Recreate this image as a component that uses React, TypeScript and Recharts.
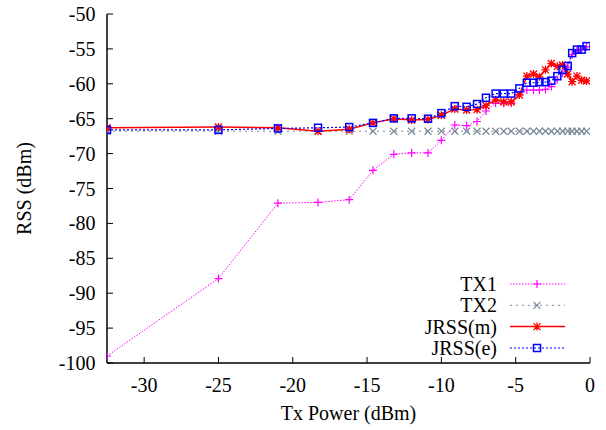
import React from 'react';
import { LineChart, Line, XAxis, YAxis, Legend } from 'recharts';

// Tx power (dBm) sample points
const txPower = [-32.5, -25, -21, -18.3, -16.2, -14.6, -13.2, -12, -10.9, -10, -9.1, -8.3, -7.6, -7, -6.35, -5.8, -5.3, -4.75, -4.25, -3.8, -3.4, -3.0, -2.6, -2.2, -1.85, -1.5, -1.2, -0.88, -0.56, -0.23];
const tx1 = [-99, -87.9, -77.1, -77, -76.6, -72.4, -70.1, -69.9, -69.9, -68.1, -65.9, -66, -65.4, -63.9, -62.8, -62.8, -62.8, -61.6, -60.9, -60.9, -60.9, -60.8, -60.4, -59.4, -58.5, -57.6, -55.8, -55.2, -55.1, -54.7];
const tx2 = [-66.8, -66.8, -66.8, -66.8, -66.8, -66.8, -66.8, -66.8, -66.8, -66.8, -66.8, -66.8, -66.8, -66.8, -66.8, -66.8, -66.8, -66.8, -66.8, -66.8, -66.8, -66.8, -66.8, -66.8, -66.8, -66.8, -66.8, -66.8, -66.8, -66.8];
const jrssM = [-66.3, -66.2, -66.3, -66.8, -66.5, -65.6, -65.0, -65.2, -65.1, -64.5, -63.6, -63.75, -63.7, -63.1, -62.3, -62.6, -62.6, -61.6, -58.9, -58.6, -59.0, -58.0, -57.1, -57.5, -57.3, -58.6, -59.7, -58.9, -59.5, -59.6];
const jrssE = [-66.6, -66.6, -66.4, -66.3, -66.2, -65.6, -64.95, -64.95, -65.0, -64.2, -63.2, -63.3, -62.9, -62.0, -61.4, -61.4, -61.4, -60.65, -59.85, -59.85, -59.75, -59.75, -59.55, -58.9, -58.0, -57.45, -55.6, -55.1, -55.1, -54.6];

const xTicks = [-30, -25, -20, -15, -10, -5, 0];
const yTicks = [-100, -95, -90, -85, -80, -75, -70, -65, -60, -55, -50];
const seriesNames = ['TX1', 'TX2', 'JRSS(m)', 'JRSS(e)'];

const data = txPower.map((x, i) => ({ x, tx1: tx1[i], tx2: tx2[i], jm: jrssM[i], je: jrssE[i] }));

const FONT = "'Liberation Serif', 'Times New Roman', Tinos, 'Nimbus Roman', 'Nimbus Roman No9 L', FreeSerif, 'DejaVu Serif', 'Noto Serif', Times, serif";
const textStyle = { fontFamily: FONT, fontSize: 20, fill: '#000' };

type Kind = 'plus' | 'cross' | 'star' | 'square';
const styles: { key: string; kind: Kind; color: string; width: number; dash?: string }[] = [
  { key: 'tx1', kind: 'plus', color: '#ff00ff', width: 1, dash: '1.5 1.5' },
  { key: 'tx2', kind: 'cross', color: '#7b8a98', width: 1, dash: '2 4' },
  { key: 'jm', kind: 'star', color: '#ff0000', width: 1.5 },
  { key: 'je', kind: 'square', color: '#0000ff', width: 1.2, dash: '2 2' },
];

function Marker({ kind, cx, cy, color }: { kind: Kind; cx: number; cy: number; color: string }) {
  if (cx == null || cy == null || isNaN(cx) || isNaN(cy)) return null;
  const s = 3.5;
  if (kind === 'plus') {
    return <path d={`M${cx - 4},${cy}H${cx + 4}M${cx},${cy - 4}V${cy + 4}`} stroke={color} strokeWidth={1.2} fill="none" />;
  }
  if (kind === 'cross') {
    return <path d={`M${cx - s},${cy - s}L${cx + s},${cy + s}M${cx - s},${cy + s}L${cx + s},${cy - s}`} stroke={color} strokeWidth={1.2} fill="none" />;
  }
  if (kind === 'star') {
    return <path d={`M${cx - s},${cy - s}L${cx + s},${cy + s}M${cx - s},${cy + s}L${cx + s},${cy - s}M${cx - 4},${cy}H${cx + 4}M${cx},${cy - 4}V${cy + 4}`} stroke={color} strokeWidth={1.3} fill="none" />;
  }
  return <rect x={cx - s} y={cy - s} width={2 * s} height={2 * s} stroke={color} strokeWidth={1.5} fill="none" />;
}

const XTick = (props: any) => {
  const { x, y, payload } = props;
  return (
    <text x={x} y={y} dy={7} textAnchor="middle" style={textStyle}>
      {payload.value}
    </text>
  );
};

const YTick = (props: any) => {
  const { x, y, payload } = props;
  return (
    <text x={x} y={y} dy={7} textAnchor="end" style={textStyle}>
      {payload.value}
    </text>
  );
};

const XLabel = (props: any) => {
  const vb = props.viewBox || {};
  return (
    <text x={vb.x + vb.width / 2} y={vb.y + 57} textAnchor="middle" style={textStyle}>
      Tx Power (dBm)
    </text>
  );
};

const YLabel = (props: any) => {
  const vb = props.viewBox || {};
  const cx = 23.5;
  const cy = vb.y + vb.height / 2;
  return (
    <text x={cx} y={cy} dy={7} transform={`rotate(-90 ${cx} ${cy})`} textAnchor="middle" style={textStyle}>
      RSS (dBm)
    </text>
  );
};

const LegendBox = () => {
  const rowY = [14, 35.3, 56.6, 78];
  return (
    <svg width={200} height={92} style={{ overflow: 'visible' }}>
      {styles.map((st, i) => (
        <g key={st.key}>
          <text x={97} y={rowY[i]} dy={7} textAnchor="end" style={textStyle}>
            {seriesNames[i]}
          </text>
          <line x1={110} x2={165} y1={rowY[i]} y2={rowY[i]} stroke={st.color} strokeWidth={st.width} strokeDasharray={st.dash} />
          <Marker kind={st.kind} cx={137} cy={rowY[i]} color={st.color} />
        </g>
      ))}
    </svg>
  );
};

export default function App() {
  const axisLine = { stroke: '#000', strokeWidth: 1.5 };
  const tickLine = { stroke: '#000', strokeWidth: 1 };
  return (
    <div style={{ position: 'absolute', left: 0, top: 0, width: 606, height: 430, background: '#fff', fontFamily: FONT }}>
      <LineChart width={606} height={430} data={data} margin={{ top: 14, right: 16, left: 0, bottom: 0 }} style={{ fontFamily: FONT }}>
        <XAxis
          dataKey="x"
          type="number"
          domain={[-32.5, 0]}
          ticks={xTicks}
          allowDataOverflow
          height={67}
          axisLine={axisLine}
          tickLine={tickLine}
          tickSize={-6}
          tickMargin={28}
          tick={<XTick />}
          label={<XLabel />}
        />
        <XAxis
          xAxisId="top"
          orientation="top"
          dataKey="x"
          type="number"
          domain={[-32.5, 0]}
          ticks={xTicks}
          allowDataOverflow
          height={0}
          axisLine={axisLine}
          tickLine={tickLine}
          tickSize={-6}
          tick={false}
        />
        <YAxis
          type="number"
          domain={[-100, -50]}
          ticks={yTicks}
          allowDataOverflow
          width={107}
          axisLine={axisLine}
          tickLine={tickLine}
          tickSize={-6}
          tickMargin={17.5}
          tick={<YTick />}
          label={<YLabel />}
        />
        <YAxis
          yAxisId="right"
          orientation="right"
          type="number"
          domain={[-100, -50]}
          ticks={yTicks}
          allowDataOverflow
          width={0}
          axisLine={axisLine}
          tickLine={tickLine}
          tickSize={-6}
          tick={false}
        />
        {styles.map((st, i) => (
          <Line
            key={st.key}
            dataKey={st.key}
            name={seriesNames[i]}
            type="linear"
            stroke={st.color}
            strokeWidth={st.width}
            strokeDasharray={st.dash}
            isAnimationActive={false}
            activeDot={false}
            dot={(p: any) => <Marker key={`${st.key}-${p.index}`} kind={st.kind} cx={p.cx} cy={p.cy} color={st.color} />}
          />
        ))}
        <Legend
          layout="vertical"
          align="center"
          verticalAlign="middle"
          wrapperStyle={{ left: 400, top: 270, width: 200, height: 92 }}
          content={() => <LegendBox />}
        />
      </LineChart>
    </div>
  );
}
